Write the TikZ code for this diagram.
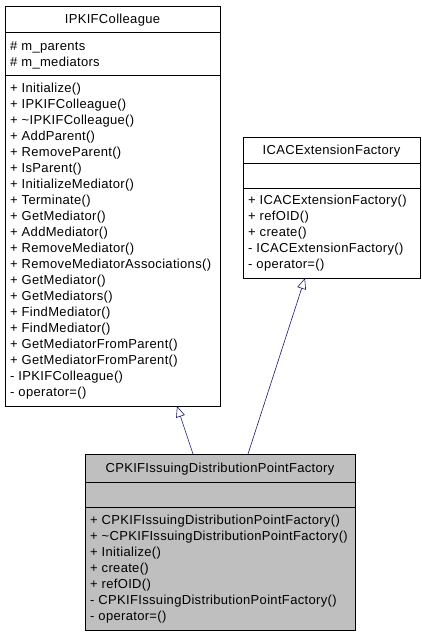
\documentclass[tikz,border=0pt]{standalone}
\usepackage{fontspec}
\setmainfont[LetterSpace=2.5]{Liberation Sans}
\usetikzlibrary{arrows.meta}
\definecolor{edgeblue}{RGB}{25,25,112}
\definecolor{boxgray}{RGB}{191,191,191}
\begin{document}
\begin{tikzpicture}[x=1pt,y=-1pt,
  classbox/.style={draw=black, line width=0.8pt, inner sep=0pt, outer sep=0pt, rectangle, anchor=north west},
  sep/.style={draw=black, line width=0.8pt},
  txt/.style={anchor=base west, inner sep=0pt, font=\fontsize{13}{15}\selectfont},
  ttl/.style={anchor=base, inner sep=0pt, font=\fontsize{13}{15}\selectfont},
  inherit/.style={draw=edgeblue, line width=0.6pt, -{Triangle[open, length=11pt, width=9pt, fill=white]}}]
\useasboundingbox (0,0) rectangle (421,635);
\fill[white] (0,0) rectangle (421,635);

% IPKIFColleague
\node[classbox, minimum width=215pt, minimum height=400pt] (colleague) at (5,6) {};
\draw[sep] (5,32) -- (220,32);
\draw[sep] (5,75) -- (220,75);
\node[ttl] (colleagueT) at (112.5,23) {IPKIFColleague};
\node[txt] (ca1) at (10,50) {\# m\_parents};
\node[txt] (ca2) at (10,66) {\# m\_mediators};
\node[txt] (cm1) at (10,92) {+ Initialize()};
\node[txt] (cm2) at (10,108) {+ IPKIFColleague()};
\node[txt] (cm3) at (10,124) {+ \textasciitilde IPKIFColleague()};
\node[txt] (cm4) at (10,140) {+ AddParent()};
\node[txt] (cm5) at (10,156) {+ RemoveParent()};
\node[txt] (cm6) at (10,172) {+ IsParent()};
\node[txt] (cm7) at (10,188) {+ InitializeMediator()};
\node[txt] (cm8) at (10,204) {+ Terminate()};
\node[txt] (cm9) at (10,220) {+ GetMediator()};
\node[txt] (cm10) at (10,236) {+ AddMediator()};
\node[txt] (cm11) at (10,252) {+ RemoveMediator()};
\node[txt] (cm12) at (10,268) {+ RemoveMediatorAssociations()};
\node[txt] (cm13) at (10,284) {+ GetMediator()};
\node[txt] (cm14) at (10,300) {+ GetMediators()};
\node[txt] (cm15) at (10,316) {+ FindMediator()};
\node[txt] (cm16) at (10,332) {+ FindMediator()};
\node[txt] (cm17) at (10,348) {+ GetMediatorFromParent()};
\node[txt] (cm18) at (10,364) {+ GetMediatorFromParent()};
\node[txt] (cm19) at (10,380) {- IPKIFColleague()};
\node[txt] (cm20) at (10,396) {- operator=()};

% ICACExtensionFactory
\node[classbox, minimum width=177pt, minimum height=141pt] (icac) at (243,137) {};
\draw[sep] (243,163) -- (420,163);
\draw[sep] (243,188) -- (420,188);
\node[ttl] (icacT) at (331.5,154) {ICACExtensionFactory};
\node[txt] (im1) at (248,204) {+ ICACExtensionFactory()};
\node[txt] (im2) at (248,220) {+ refOID()};
\node[txt] (im3) at (248,236) {+ create()};
\node[txt] (im4) at (248,252) {- ICACExtensionFactory()};
\node[txt] (im5) at (248,268) {- operator=()};

% CPKIFIssuingDistributionPointFactory
\node[classbox, fill=boxgray, minimum width=270pt, minimum height=176pt] (cpk) at (85,454) {};
\draw[sep] (85,482) -- (355,482);
\draw[sep] (85,507) -- (355,507);
\node[ttl] (cpkT) at (220,472) {CPKIFIssuingDistributionPointFactory};
\node[txt] (pm1) at (90,524) {+ CPKIFIssuingDistributionPointFactory()};
\node[txt] (pm2) at (90,540) {+ \textasciitilde CPKIFIssuingDistributionPointFactory()};
\node[txt] (pm3) at (90,556) {+ Initialize()};
\node[txt] (pm4) at (90,572) {+ create()};
\node[txt] (pm5) at (90,588) {+ refOID()};
\node[txt] (pm6) at (90,604) {- CPKIFIssuingDistributionPointFactory()};
\node[txt] (pm7) at (90,620) {- operator=()};

% inheritance
\draw[inherit] ([xshift=-27pt]cpk.north) -- ([xshift=64.5pt]colleague.south);
\draw[inherit] ([xshift=28pt]cpk.north) -- ([xshift=-26.5pt]icac.south);
\end{tikzpicture}
\end{document}
